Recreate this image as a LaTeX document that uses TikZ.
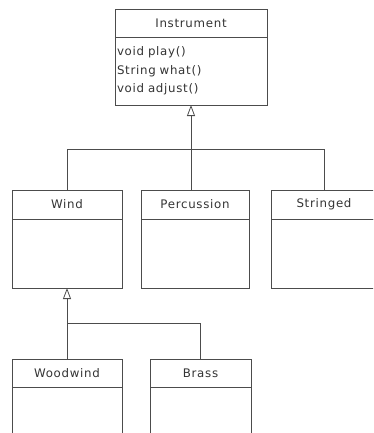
\documentclass[tikz,border=0pt]{standalone}
\usepackage{fontspec}
\setmainfont{DejaVu Sans}[LetterSpace=6]
\usetikzlibrary{positioning,arrows.meta}
\tikzset{
  x=1pt, y=-1pt,
  every node/.style={font=\fontsize{11.8}{18.5}\selectfont, text=black!80},
  umlline/.style={draw=black!70, line width=0.8pt},
  hdr/.style={umlline, rectangle, inner sep=0pt, outer sep=0pt, anchor=north},
  bdy/.style={umlline, rectangle, inner sep=0pt, outer sep=0pt, anchor=north},
  link/.style={umlline},
  inherit/.style={umlline, -{Triangle[open, length=11pt, width=8pt]}},
}
\begin{document}
\begin{tikzpicture}
  \useasboundingbox (0,0) rectangle (373,433);
  \clip (0,0) rectangle (373,433);

  % Instrument
  \node[hdr, minimum width=152, minimum height=28] (instH) at (191,9) {Instrument};
  \node[bdy, below=0pt of instH, minimum width=152, minimum height=68,
        text width=148pt, inner xsep=2pt, align=left] (instB)
        {void play()\\String what()\\void adjust()};

  % Second level
  \node[hdr, minimum width=110, minimum height=29] (windH) at (67,190) {Wind};
  \node[bdy, below=0pt of windH, minimum width=110, minimum height=69] (windB) {};
  \node[hdr, minimum width=108, minimum height=29] (percH) at (195,190) {Percussion};
  \node[bdy, below=0pt of percH, minimum width=108, minimum height=69] (percB) {};
  \node[hdr, minimum width=106, minimum height=29] (strH) at (324,190) {Stringed};
  \node[bdy, below=0pt of strH, minimum width=106, minimum height=69] (strB) {};

  % Third level
  \node[hdr, minimum width=110, minimum height=28] (woodH) at (67,359) {Woodwind};
  \node[bdy, below=0pt of woodH, minimum width=110, minimum height=90] (woodB) {};
  \node[hdr, minimum width=101, minimum height=28] (brassH) at (200.5,359) {Brass};
  \node[bdy, below=0pt of brassH, minimum width=101, minimum height=90] (brassB) {};

  % Inheritance junctions
  \coordinate (j1) at (191,149);
  \coordinate (j2) at (67,323);

  \draw[inherit] (j1) -- (instB.south);
  \draw[link] (windH.north) |- (j1);
  \draw[link] (strH.north) |- (j1);
  \draw[link] (j1) -- (j1 |- percH.north);

  \draw[inherit] (j2) -- (windB.south);
  \draw[link] (woodH.north) -- (j2);
  \draw[link] (j2) -| (brassH.north);
\end{tikzpicture}
\end{document}
